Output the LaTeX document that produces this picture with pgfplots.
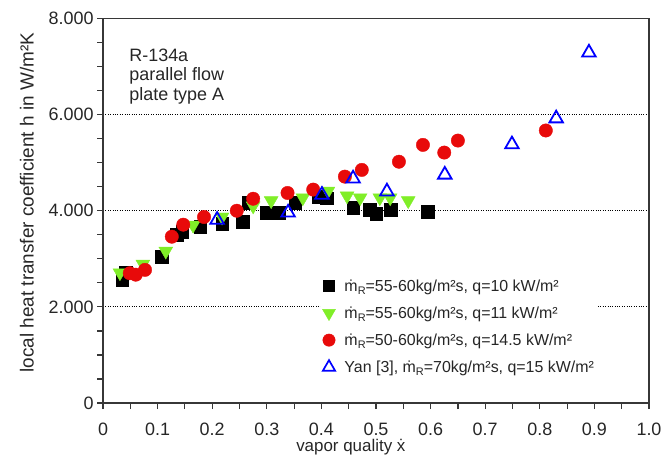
\documentclass[border=0pt]{standalone}
\usepackage{fontspec}
\setmainfont{Liberation Sans}
\usepackage{pgfplots}
\pgfplotsset{compat=1.18}
\definecolor{axgray}{RGB}{55,55,55}
\definecolor{lgreen}{RGB}{128,238,40}
\definecolor{mred}{RGB}{232,10,10}
\definecolor{mblue}{RGB}{0,0,255}
\newcommand\mR{ṁ\raisebox{-0.4ex}{\fontsize{11}{11}\selectfont R}}
\begin{document}
\begin{tikzpicture}
\begin{axis}[
  at={(0,0)}, anchor=south west,
  scale only axis, width=546bp, height=384.5bp,
  xmin=0, xmax=1, ymin=0, ymax=8000,
  axis line style={axgray, line width=1.4bp},
  xtick={0,0.1,0.2,0.3,0.4,0.5,0.6,0.7,0.8,0.9,1},
  xticklabels={0,0.1,0.2,0.3,0.4,0.5,0.6,0.7,0.8,0.9,1.0},
  ytick={0,2000,4000,6000,8000},
  yticklabels={0,2.000,4.000,6.000,8.000},
  minor x tick num=1, minor y tick num=3,
  tick align=outside, tick pos=left,
  major tick length=6bp, minor tick length=6bp,
  tick style={axgray, line width=1.2bp},
  ymajorgrids, grid style={black, dotted, line width=0.9bp},
  tick label style={font=\fontsize{18}{20}\selectfont, text=black!85},
  xticklabel style={yshift=-10bp},
  every axis x label/.style={at={(axis description cs:0.454,-0.125)}, anchor=base, font=\fontsize{17}{20}\selectfont, text=black!85},
  every axis y label/.style={at={(axis description cs:-0.127,0.521)}, anchor=base, rotate=90, font=\fontsize{19}{20}\selectfont, text=black!85},
  xlabel={vapor quality ẋ},
  ylabel={local heat transfer coefficient h in W/m²K},
  legend style={draw=none, fill=white, at={(axis description cs:0.398,0.332)}, anchor=north west,
    font=\fontsize{16}{18}\selectfont, text=black!85, row sep=10bp, inner sep=2bp},
  legend cell align=left,
]
\addplot[only marks, mark=square*, mark size=6.3bp, black, forget plot] coordinates {
(0.035,2560) (0.042,2720) (0.108,3040) (0.135,3500) (0.145,3560) (0.178,3670)
(0.218,3730) (0.256,3770) (0.266,4170) (0.300,3960) (0.322,3960) (0.352,4170)
(0.394,4290) (0.410,4260) (0.458,4060) (0.489,4020) (0.500,3940) (0.527,4020)
(0.595,3980)};
\addplot[only marks, mark=triangle*, mark options={rotate=180}, mark size=8bp, draw=lgreen, fill=lgreen, forget plot] coordinates {
(0.031,2710) (0.073,2890) (0.115,3160) (0.165,3700) (0.218,3870) (0.275,4100)
(0.308,4210) (0.366,4270) (0.412,4410) (0.447,4310) (0.471,4270) (0.507,4270)
(0.526,4270) (0.559,4210)};
\addplot[only marks, mark=*, mark size=6.7bp, draw=mred, fill=mred, forget plot] coordinates {
(0.049,2700) (0.060,2670) (0.077,2770) (0.126,3460) (0.147,3710) (0.185,3870)
(0.245,4000) (0.275,4250) (0.338,4370) (0.385,4440) (0.443,4710) (0.474,4850)
(0.542,5020) (0.586,5370) (0.625,5210) (0.650,5460) (0.811,5670)};
\addplot[only marks, mark=triangle, mark size=7.8bp, draw=mblue, line width=1.8bp, forget plot] coordinates {
(0.209,3810) (0.339,3960) (0.401,4330) (0.458,4670) (0.520,4400) (0.626,4750)
(0.749,5380) (0.830,5920) (0.890,7290)};
\addlegendimage{only marks, mark=square*, mark size=5.6bp, black}
\addlegendentry{\hspace*{7bp}\mR=55-60kg/m²s, q=10 kW/m²}
\addlegendimage{only marks, mark=triangle*, mark options={rotate=180}, mark size=7.5bp, draw=lgreen, fill=lgreen}
\addlegendentry{\hspace*{7bp}\mR=55-60kg/m²s, q=11 kW/m²}
\addlegendimage{only marks, mark=*, mark size=6.2bp, draw=mred, fill=mred}
\addlegendentry{\hspace*{7bp}\mR=50-60kg/m²s, q=14.5 kW/m²}
\addlegendimage{only marks, mark=triangle, mark size=7bp, draw=mblue, line width=1.7bp}
\addlegendentry{\hspace*{7bp}Yan [3], \mR=70kg/m²s, q=15 kW/m²}
\node[anchor=north west, align=left, font=\fontsize{18}{19.7}\selectfont, text=black!85, inner sep=0pt]
  at (axis description cs:0.048,0.922) {R-134a\\parallel flow\\plate type A};
\end{axis}
\pgfresetboundingbox
\useasboundingbox (-103bp,-56bp) rectangle (561bp,403bp);
\end{tikzpicture}
\end{document}
